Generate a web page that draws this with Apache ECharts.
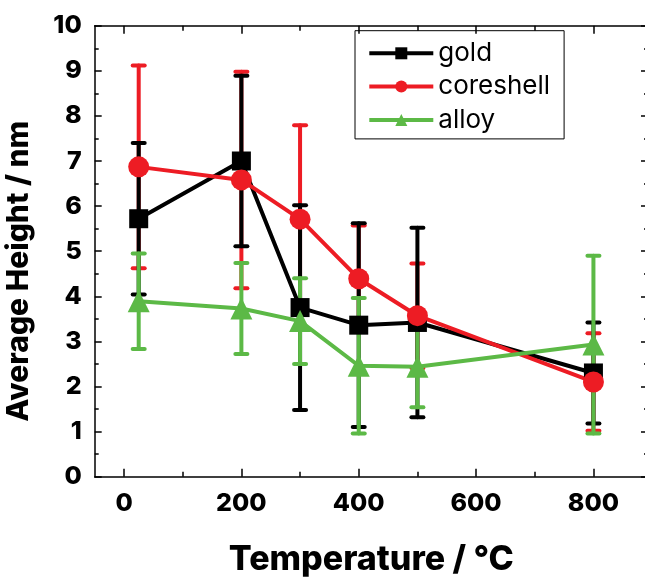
<!DOCTYPE html>
<html><head><meta charset="utf-8">
<script src="https://cdn.jsdelivr.net/npm/echarts@6/dist/echarts.min.js"></script>
<style>html,body{margin:0;padding:0;background:#fff}#c{width:645px;height:578px}</style>
</head><body><div id="c"></div>
<script>
// ---- data ----
const temps = [25, 200, 300, 400, 500, 800];
const goldMean = [5.72, 7.0, 3.75, 3.36, 3.42, 2.30];
const goldErr = [1.68, 1.89, 2.27, 2.26, 2.10, 1.12];
const coreMean = [6.87, 6.58, 5.71, 4.39, 3.57, 2.10];
const coreErr = [2.25, 2.40, 2.08, 1.18, 1.16, 1.08];
const alloyMean = [3.89, 3.73, 3.45, 2.46, 2.44, 2.93];
const alloyErr = [1.06, 1.01, 0.95, 1.50, 0.90, 1.97];
const seriesNames = ['gold', 'coreshell', 'alloy'];
const xMajorTicks = [0, 200, 400, 600, 800];
const xMinorTicks = [100, 300, 500, 700];

const colors = {gold: '#000000', coreshell: '#ed1c24', alloy: '#5cb946'};
const FONT = 'Inter';
const W = 800;
const black = '#000';
const axLine = {color: black, width: 1.5};

function lineSeries(name, mean, symbol, size) {
  return {
    type: 'line', name: name, xAxisIndex: 0, yAxisIndex: 0,
    data: temps.map((t, i) => [t, mean[i]]),
    symbol: symbol, symbolSize: size,
    itemStyle: {color: colors[name]},
    lineStyle: {color: colors[name], width: 4},
    emphasis: {disabled: true}, animation: false
  };
}
function errSeries(name, mean, err) {
  const color = colors[name];
  return {
    type: 'custom', name: name + ' err', xAxisIndex: 0, yAxisIndex: 0,
    data: temps.map((t, i) => [t, mean[i] - err[i], mean[i] + err[i]]),
    encode: {x: 0, y: [1, 2]},
    animation: false,
    renderItem: function (params, api) {
      const x = api.value(0), lo = api.value(1), hi = api.value(2);
      const p1 = api.coord([x, lo]), p2 = api.coord([x, hi]);
      const w = 6;
      const st = {stroke: color, lineWidth: 4, lineCap: 'round'};
      return {type: 'group', children: [
        {type: 'line', shape: {x1: p1[0], y1: p1[1], x2: p2[0], y2: p2[1]}, style: st},
        {type: 'line', shape: {x1: p1[0] - w, y1: p1[1], x2: p1[0] + w, y2: p1[1]}, style: st},
        {type: 'line', shape: {x1: p2[0] - w, y1: p2[1], x2: p2[0] + w, y2: p2[1]}, style: st}
      ]};
    }
  };
}
function xAx(position, ticks, len, showLine, label, name) {
  const o = {
    type: 'value', min: -50, max: 893, position: position,
    axisLine: {show: showLine, onZero: false, lineStyle: axLine},
    axisTick: {show: true, inside: true, length: len, customValues: ticks, lineStyle: axLine},
    axisLabel: {show: !!label, customValues: ticks, fontFamily: FONT, fontWeight: W, fontSize: 25, color: black, margin: 14},
    splitLine: {show: false}
  };
  if (name) {
    o.name = name; o.nameLocation = 'middle'; o.nameGap = 66;
    o.nameTextStyle = {fontFamily: FONT, fontWeight: W, fontSize: 34, color: black};
  }
  return o;
}
function yAx(position, label, name) {
  const o = {
    type: 'value', min: 0, max: 10, interval: 1, position: position,
    axisLine: {show: true, onZero: false, lineStyle: axLine},
    axisTick: {show: true, inside: true, length: 7, lineStyle: axLine},
    minorTick: {show: true, splitNumber: 2, length: 4, lineStyle: axLine},
    axisLabel: {show: label, fontFamily: FONT, fontWeight: W, fontSize: 25, color: black, margin: 13},
    splitLine: {show: false}, minorSplitLine: {show: false}
  };
  if (name) {
    o.name = name; o.nameLocation = 'middle'; o.nameGap = 61; o.nameRotate = 90;
    o.nameTextStyle = {fontFamily: FONT, fontWeight: W, fontSize: 30, color: black, padding: [0, 40, 0, 0]};
  }
  return o;
}

const chart = echarts.init(document.getElementById('c'), null, {renderer: 'canvas'});
chart.setOption({
  animation: false,
  backgroundColor: '#fff',
  grid: {left: 94.7, top: 25.7, width: 553.3, height: 451, containLabel: false, outerBoundsMode: 'none'},
  legend: {
    orient: 'vertical', left: 355, top: 30.7, data: seriesNames,
    itemWidth: 64, itemHeight: 15, itemGap: 7.3,
    padding: [9.6, 14, 6, 12.3],
    borderColor: black, borderWidth: 1, borderRadius: 0,
    lineStyle: {width: 4},
    textStyle: {fontFamily: FONT, fontSize: 26, color: black, lineHeight: 26},
    selectedMode: false
  },
  xAxis: [
    xAx('bottom', xMajorTicks, 8, true, true, 'Temperature / °C'),
    xAx('bottom', xMinorTicks, 5, false, false),
    xAx('top', xMajorTicks, 8, true, false),
    xAx('top', xMinorTicks, 5, false, false)
  ],
  yAxis: [
    yAx('left', true, 'Average Height / nm'),
    yAx('right', false)
  ],
  series: [
    lineSeries('gold', goldMean, 'rect', 19),
    lineSeries('coreshell', coreMean, 'circle', 21),
    lineSeries('alloy', alloyMean, 'triangle', 22),
    errSeries('coreshell', coreMean, coreErr),
    errSeries('gold', goldMean, goldErr),
    errSeries('alloy', alloyMean, alloyErr)
  ]
});
</script>
</body></html>
